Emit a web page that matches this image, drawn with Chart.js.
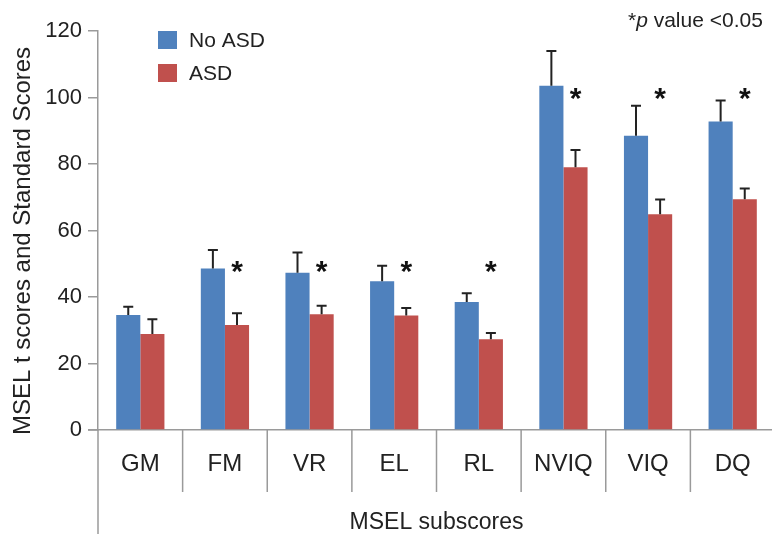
<!DOCTYPE html>
<html>
<head>
<meta charset="utf-8">
<script src="https://cdn.jsdelivr.net/npm/chart.js@4.4.1/dist/chart.umd.min.js"></script>
<style>
html,body{margin:0;padding:0;background:#fff;overflow:hidden;}
#wrap{width:772px;height:534px;overflow:hidden;position:relative;}
canvas{display:block;}
</style>
</head>
<body>
<div id="wrap"><canvas id="c" width="776" height="534"></canvas></div>
<script>
const categories = ["GM", "FM", "VR", "EL", "RL", "NVIQ", "VIQ", "DQ"];
const noAsdMeans = [34.6, 48.6, 47.3, 44.7, 38.5, 103.5, 88.5, 92.8];
const noAsdErr   = [2.5, 5.5, 6.1, 4.7, 2.6, 10.5, 9.0, 6.3];
const asdMeans   = [28.9, 31.6, 34.8, 34.4, 27.3, 79.0, 64.9, 69.4];
const asdErr     = [4.4, 3.5, 2.6, 2.3, 1.9, 5.2, 4.4, 3.2];
const sigStarLevel = [null, 50, 50, 50, 50, 102, 102, 102];
const yTicks = [0, 20, 40, 60, 80, 100, 120];
const seriesLabels = ["No ASD", "ASD"];
const seriesColors = ["#4F81BD", "#C0504D"];

const FONT = "'Liberation Sans', Arial, Helvetica, sans-serif";
const TXT = "#222";
const AX = "#9a9a9a";

const errors = [noAsdErr, asdErr];

const overlay = {
  id: 'overlay',
  afterDatasetsDraw(chart) {
    const ctx = chart.ctx;
    const ca = chart.chartArea;
    const y = chart.scales.y;
    const x = chart.scales.x;
    ctx.save();
    // error bars (upper only)
    ctx.strokeStyle = "#222";
    ctx.lineWidth = 2;
    chart.data.datasets.forEach((ds, di) => {
      const meta = chart.getDatasetMeta(di);
      meta.data.forEach((bar, i) => {
        const top = y.getPixelForValue(ds.data[i] + errors[di][i]);
        const base = y.getPixelForValue(ds.data[i]);
        ctx.beginPath();
        ctx.moveTo(bar.x, base);
        ctx.lineTo(bar.x, top);
        ctx.moveTo(bar.x - 5, top);
        ctx.lineTo(bar.x + 5, top);
        ctx.stroke();
      });
    });
    // significance stars
    const redMeta = chart.getDatasetMeta(1);
    ctx.fillStyle = "#111";
    ctx.font = "bold 30px " + FONT;
    ctx.textAlign = "center";
    ctx.textBaseline = "alphabetic";
    sigStarLevel.forEach((lv, i) => {
      if (lv === null) return;
      const bx = redMeta.data[i].x;
      const py = y.getPixelForValue(lv);
      ctx.fillText("*", bx, py + 17);
    });
    ctx.restore();
  },
  afterDraw(chart) {
    const ctx = chart.ctx;
    const ca = chart.chartArea;
    const x = chart.scales.x;
    ctx.save();
    ctx.strokeStyle = AX;
    ctx.lineWidth = 1.5;
    // y axis extension to bottom
    ctx.beginPath();
    ctx.moveTo(ca.left, ca.bottom);
    ctx.lineTo(ca.left, chart.height);
    // x axis extension left
    ctx.moveTo(ca.left - 10, ca.bottom);
    ctx.lineTo(ca.left, ca.bottom);
    // category separators
    for (let i = 0; i < categories.length; i++) {
      const b = (i < categories.length - 1)
        ? (x.getPixelForValue(i) + x.getPixelForValue(i + 1)) / 2
        : x.getPixelForValue(i) + (x.getPixelForValue(i) - x.getPixelForValue(i - 1)) / 2;
      ctx.moveTo(b, ca.bottom);
      ctx.lineTo(b, ca.bottom + 62);
    }
    ctx.stroke();

    // axis titles
    ctx.fillStyle = TXT;
    ctx.font = "23px " + FONT;
    ctx.textAlign = "center";
    ctx.textBaseline = "middle";
    ctx.fillText("MSEL subscores", (ca.left + ca.right) / 2, 523);
    ctx.save();
    ctx.translate(23, 241);
    ctx.rotate(-Math.PI / 2);
    ctx.font = "24px " + FONT;
    ctx.fillText("MSEL t scores and Standard Scores", 0, 0);
    ctx.restore();

    // legend
    ctx.textAlign = "left";
    ctx.font = "21px " + FONT;
    seriesLabels.forEach((lab, i) => {
      const ly = 40 + i * 33;
      ctx.fillStyle = seriesColors[i];
      ctx.fillRect(158, ly - 9, 19, 18);
      ctx.fillStyle = TXT;
      ctx.fillText(lab, 189, ly + 1);
    });

    // p-value note
    ctx.font = "21px " + FONT;
    ctx.textAlign = "left";
    let tx = 628;
    const ty = 21;
    ctx.fillText("*", tx, ty);
    tx += ctx.measureText("*").width;
    ctx.font = "italic 21px " + FONT;
    ctx.fillText("p", tx, ty);
    tx += ctx.measureText("p").width;
    ctx.font = "21px " + FONT;
    ctx.fillText(" value <0.05", tx, ty);
    ctx.restore();
  }
};

new Chart(document.getElementById('c'), {
  type: 'bar',
  data: {
    labels: categories,
    datasets: [
      { label: seriesLabels[0], data: noAsdMeans, backgroundColor: seriesColors[0], borderWidth: 0 },
      { label: seriesLabels[1], data: asdMeans, backgroundColor: seriesColors[1], borderWidth: 0 }
    ]
  },
  options: {
    responsive: false,
    animation: false,
    devicePixelRatio: 1,
    layout: { padding: { top: 31, right: 1, left: 0, bottom: 0 } },
    plugins: { legend: { display: false }, tooltip: { enabled: false } },
    datasets: { bar: { categoryPercentage: 0.57, barPercentage: 1.0 } },
    scales: {
      x: {
        grid: { display: false, drawTicks: false },
        border: { display: true, color: AX, width: 1.5 },
        ticks: { font: { size: 24, family: FONT }, color: TXT, padding: 20, maxRotation: 0 },
        afterFit(s) { s.height = 104; }
      },
      y: {
        min: 0, max: 120,
        afterBuildTicks(s) { s.ticks = yTicks.map(v => ({ value: v })); },
        grid: { drawOnChartArea: false, drawTicks: true, tickLength: 10, color: AX, lineWidth: 1.5 },
        border: { display: true, color: AX, width: 1.5 },
        ticks: { font: { size: 22, family: FONT }, color: TXT, padding: 6 },
        afterFit(s) { s.width = 98; }
      }
    }
  },
  plugins: [overlay]
});
</script>
</body>
</html>
